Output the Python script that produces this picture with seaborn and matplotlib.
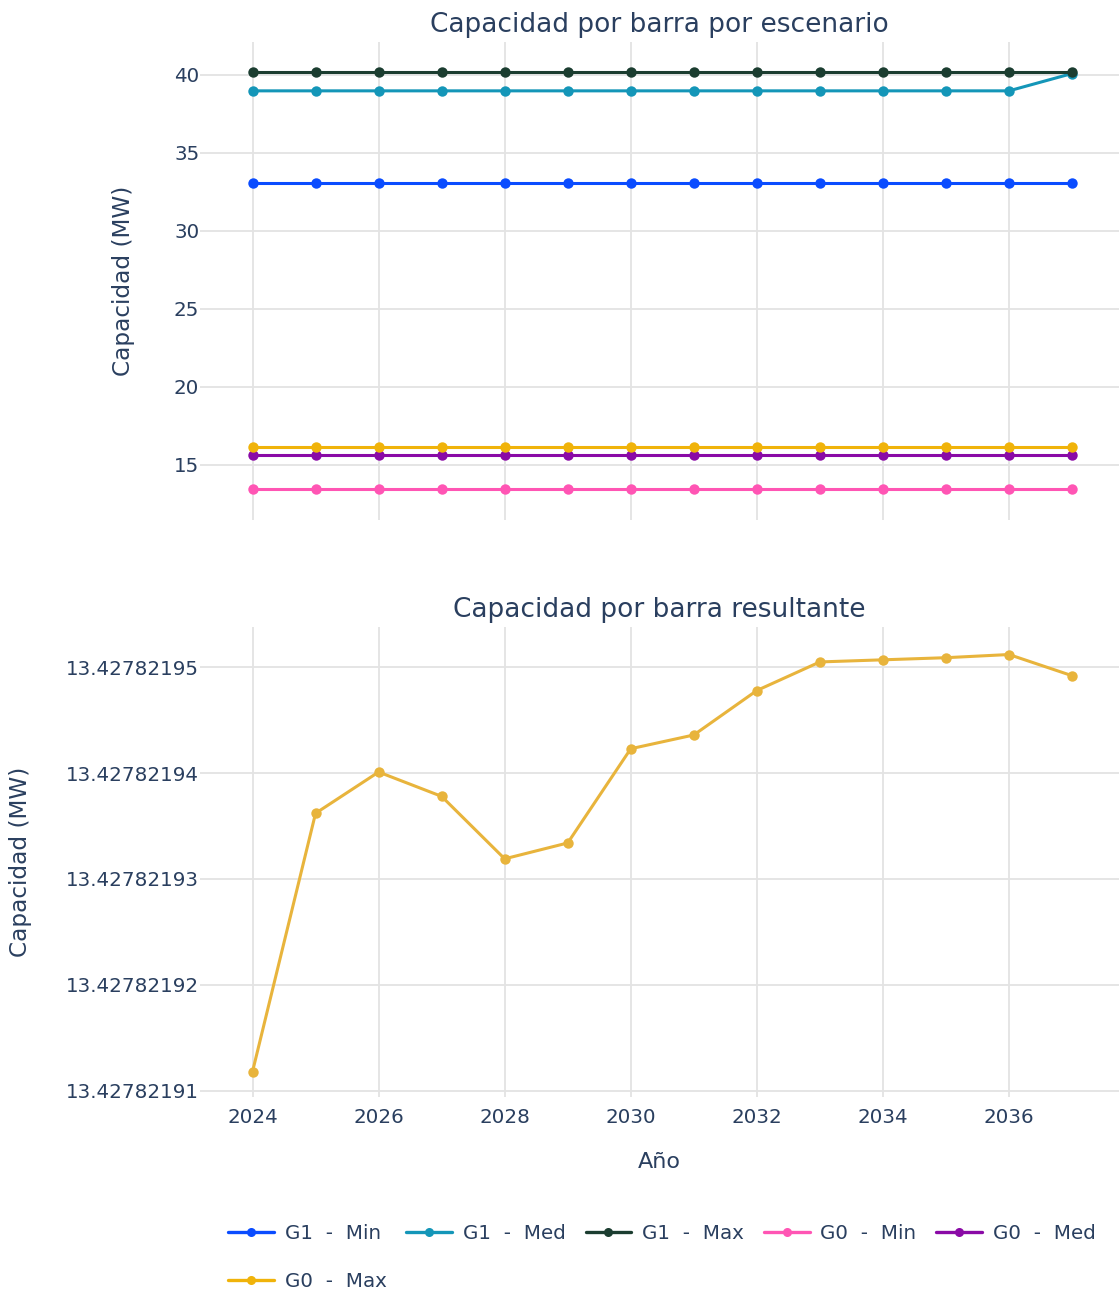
import numpy as np
import pandas as pd
import matplotlib
matplotlib.use("Agg")
import matplotlib.pyplot as plt
import matplotlib.ticker as mticker
from matplotlib.lines import Line2D
import seaborn as sns

# ---------------- data ----------------
years = [2024, 2025, 2026, 2027, 2028, 2029, 2030, 2031, 2032, 2033, 2034, 2035, 2036, 2037]

g1_min = [33.08] * 14
g1_med = [38.97] * 13 + [40.08]
g1_max = [40.2] * 14
g0_min = [13.4278] * 14
g0_med = [15.64] * 14
g0_max = [16.15] * 14

series_names = ["G1  -  Min", "G1  -  Med", "G1  -  Max", "G0  -  Min", "G0  -  Med", "G0  -  Max"]
series_colors = ["#0a4cff", "#1496b8", "#1b3d30", "#ff55b4", "#8a0aa6", "#f0b30a"]

resultante = [13.4278219118, 13.4278219362, 13.4278219401, 13.4278219378, 13.4278219319,
              13.4278219334, 13.4278219423, 13.4278219436, 13.4278219478, 13.4278219505,
              13.4278219507, 13.4278219509, 13.4278219512, 13.4278219492]
resultante_color = "#e8b43c"

y_ticks_bottom = [13.42782191, 13.42782192, 13.42782193, 13.42782194, 13.42782195]

# ---------------- style ----------------
sns.set_theme(style="white")
plt.rcParams["font.family"] = ["DejaVu Sans"]
text_color = "#2a3f5f"
grid_color = "#e3e3e3"

fig = plt.figure(figsize=(11.19, 12.95), dpi=100)

W, H = 1119.0, 1295.0
def ax_rect(left, top, right, bottom):
    return [left / W, 1 - bottom / H, (right - left) / W, (bottom - top) / H]

ax1 = fig.add_axes(ax_rect(200, 42, 1119, 520))
ax2 = fig.add_axes(ax_rect(200, 627, 1119, 1097))

# long form for top chart
rows = []
for name, vals in zip(series_names, [g1_min, g1_med, g1_max, g0_min, g0_med, g0_max]):
    for y, v in zip(years, vals):
        rows.append({"Año": y, "Capacidad": v, "Serie": name})
df_top = pd.DataFrame(rows)

sns.lineplot(data=df_top, x="Año", y="Capacidad", hue="Serie", hue_order=series_names,
             palette=dict(zip(series_names, series_colors)), marker="o", markersize=7.5,
             markeredgewidth=0, linewidth=2.2, ax=ax1, legend=False)

df_bot = pd.DataFrame({"Año": years, "Capacidad": resultante})
sns.lineplot(data=df_bot, x="Año", y="Capacidad", color=resultante_color, marker="o",
             markersize=7.5, markeredgewidth=0, linewidth=2.2, ax=ax2, legend=False)

xlim = (2023.167, 2037.745)
for ax in (ax1, ax2):
    ax.set_xlim(*xlim)
    ax.set_xticks([2024, 2026, 2028, 2030, 2032, 2034, 2036])
    ax.grid(True, color=grid_color, linewidth=1.3)
    ax.set_axisbelow(True)
    for s in ax.spines.values():
        s.set_visible(False)
    ax.tick_params(axis="both", colors=text_color, labelsize=14.3, length=0)
    ax.tick_params(axis="y", pad=0.5)
    ax.tick_params(axis="x", pad=8)

ax1.set_ylim(11.47, 42.1)
ax1.set_yticks([15, 20, 25, 30, 35, 40])
ax1.set_xticklabels([])
ax1.set_xlabel("")
ax1.set_ylabel("Capacidad (MW)", color=text_color, fontsize=16.7)
ax1.yaxis.set_label_coords(-0.071, 0.5)
ax1.set_title("Capacidad por barra por escenario", color=text_color, fontsize=19, pad=7)

ax2.set_ylim(13.4278219094, 13.4278219538)
ax2.set_yticks(y_ticks_bottom)
ax2.yaxis.set_major_formatter(mticker.FuncFormatter(lambda v, p: f"{v:.8f}"))
ax2.set_ylabel("Capacidad (MW)", color=text_color, fontsize=16.7)
ax2.yaxis.set_label_coords(-0.183, 0.5)
ax2.set_xlabel("Año", color=text_color, fontsize=16, labelpad=18)
ax2.set_title("Capacidad por barra resultante", color=text_color, fontsize=19, pad=7)

# legend
handles = [Line2D([0], [0], color=c, lw=2.4, marker="o", markersize=6.5, markeredgewidth=0)
           for c in series_colors]
order = [0, 5, 1, 2, 3, 4]
leg = fig.legend([handles[i] for i in order], [series_names[i] for i in order],
                 loc="upper left", bbox_to_anchor=(228 / W, 1 - 1224 / H), ncol=5,
                 frameon=False, fontsize=14.3, handlelength=2.3, handletextpad=0.55,
                 columnspacing=1.0, labelspacing=1.45, borderaxespad=0, borderpad=0)
for t in leg.get_texts():
    t.set_color(text_color)

fig.savefig("out.png", dpi=100)
